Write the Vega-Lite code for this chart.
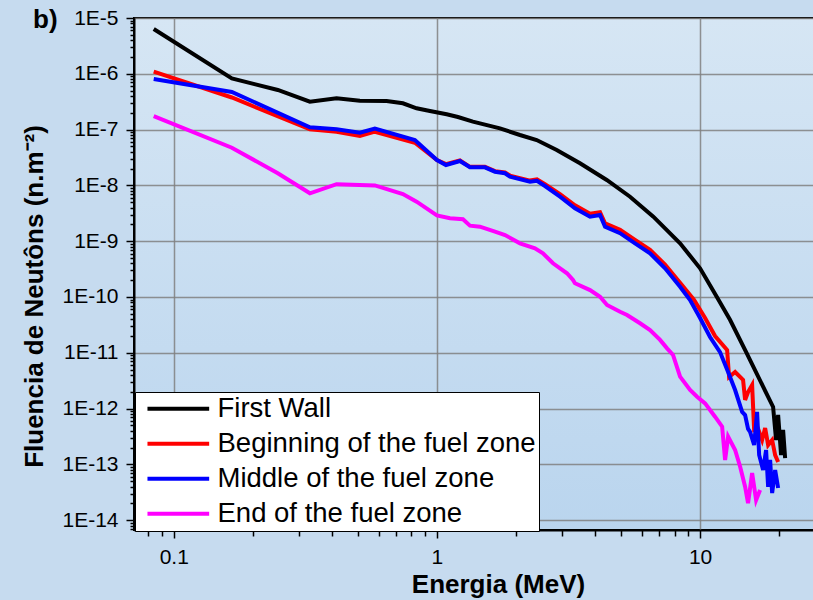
{
  "$schema": "https://vega.github.io/schema/vega-lite/v6.json",
  "width": 680,
  "height": 512,
  "autosize": {"type": "none"},
  "padding": {"left": 134, "top": 18, "right": 0, "bottom": 70},
  "background": "#c6dbef",
  "title": {"text": "b)", "anchor": "start", "dx": -101, "dy": 37, "fontSize": 26, "fontWeight": "bold", "font": "Liberation Sans", "color": "black", "baseline": "alphabetic", "offset": -10, "frame": "group"},
  "config": {
    "font": "Liberation Sans",
    "view": {"stroke": "black", "strokeWidth": 2, "fill": {"gradient": "linear", "x1": 0, "y1": 0, "x2": 0, "y2": 1, "stops": [{"offset": 0, "color": "#d6e6f4"}, {"offset": 1, "color": "#bad5ee"}]}}
  },
  "data": {"values": [
    {"s": "First Wall", "E": 0.0839, "F": 6.35e-6},
    {"s": "First Wall", "E": 0.1662, "F": 8.24e-7},
    {"s": "First Wall", "E": 0.2485, "F": 5.13e-7},
    {"s": "First Wall", "E": 0.329, "F": 3.16e-7},
    {"s": "First Wall", "E": 0.4155, "F": 3.64e-7},
    {"s": "First Wall", "E": 0.5096, "F": 3.30e-7},
    {"s": "First Wall", "E": 0.6437, "F": 3.26e-7},
    {"s": "First Wall", "E": 0.7425, "F": 2.96e-7},
    {"s": "First Wall", "E": 0.837, "F": 2.41e-7},
    {"s": "First Wall", "E": 0.9406, "F": 2.15e-7},
    {"s": "First Wall", "E": 1.089, "F": 1.88e-7},
    {"s": "First Wall", "E": 1.202, "F": 1.68e-7},
    {"s": "First Wall", "E": 1.37, "F": 1.39e-7},
    {"s": "First Wall", "E": 1.736, "F": 1.05e-7},
    {"s": "First Wall", "E": 2.068, "F": 8.0e-8},
    {"s": "First Wall", "E": 2.394, "F": 6.51e-8},
    {"s": "First Wall", "E": 2.852, "F": 4.31e-8},
    {"s": "First Wall", "E": 3.497, "F": 2.49e-8},
    {"s": "First Wall", "E": 4.419, "F": 1.25e-8},
    {"s": "First Wall", "E": 5.418, "F": 6.27e-9},
    {"s": "First Wall", "E": 6.644, "F": 2.75e-9},
    {"s": "First Wall", "E": 8.395, "F": 9.17e-10},
    {"s": "First Wall", "E": 10.0, "F": 3.27e-10},
    {"s": "First Wall", "E": 11.57, "F": 1.01e-10},
    {"s": "First Wall", "E": 13.01, "F": 3.87e-11},
    {"s": "First Wall", "E": 15.05, "F": 9.79e-12},
    {"s": "First Wall", "E": 17.36, "F": 2.47e-12},
    {"s": "First Wall", "E": 18.95, "F": 1.07e-12},
    {"s": "First Wall", "E": 19.45, "F": 2.74e-13},
    {"s": "First Wall", "E": 19.8, "F": 7.68e-13},
    {"s": "First Wall", "E": 20.32, "F": 1.47e-13},
    {"s": "First Wall", "E": 20.68, "F": 4.13e-13},
    {"s": "First Wall", "E": 21.05, "F": 1.3e-13},

    {"s": "Beginning of the fuel zone", "E": 0.0839, "F": 1.09e-6},
    {"s": "Beginning of the fuel zone", "E": 0.1662, "F": 3.76e-7},
    {"s": "Beginning of the fuel zone", "E": 0.329, "F": 1.01e-7},
    {"s": "Beginning of the fuel zone", "E": 0.4155, "F": 9.17e-8},
    {"s": "Beginning of the fuel zone", "E": 0.5096, "F": 7.68e-8},
    {"s": "Beginning of the fuel zone", "E": 0.5811, "F": 9.17e-8},
    {"s": "Beginning of the fuel zone", "E": 0.8245, "F": 5.82e-8},
    {"s": "Beginning of the fuel zone", "E": 1.0, "F": 2.85e-8},
    {"s": "Beginning of the fuel zone", "E": 1.082, "F": 2.4e-8},
    {"s": "Beginning of the fuel zone", "E": 1.223, "F": 2.8e-8},
    {"s": "Beginning of the fuel zone", "E": 1.335, "F": 2.15e-8},
    {"s": "Beginning of the fuel zone", "E": 1.522, "F": 2.15e-8},
    {"s": "Beginning of the fuel zone", "E": 1.662, "F": 1.8e-8},
    {"s": "Beginning of the fuel zone", "E": 1.814, "F": 1.7e-8},
    {"s": "Beginning of the fuel zone", "E": 1.895, "F": 1.5e-8},
    {"s": "Beginning of the fuel zone", "E": 2.258, "F": 1.22e-8},
    {"s": "Beginning of the fuel zone", "E": 2.4, "F": 1.28e-8},
    {"s": "Beginning of the fuel zone", "E": 2.575, "F": 1.05e-8},
    {"s": "Beginning of the fuel zone", "E": 2.936, "F": 7.0e-9},
    {"s": "Beginning of the fuel zone", "E": 3.347, "F": 4.4e-9},
    {"s": "Beginning of the fuel zone", "E": 3.818, "F": 3.1e-9},
    {"s": "Beginning of the fuel zone", "E": 4.167, "F": 3.3e-9},
    {"s": "Beginning of the fuel zone", "E": 4.354, "F": 2.1e-9},
    {"s": "Beginning of the fuel zone", "E": 4.965, "F": 1.6e-9},
    {"s": "Beginning of the fuel zone", "E": 5.66, "F": 1.05e-9},
    {"s": "Beginning of the fuel zone", "E": 6.455, "F": 7.0e-10},
    {"s": "Beginning of the fuel zone", "E": 7.362, "F": 3.8e-10},
    {"s": "Beginning of the fuel zone", "E": 8.395, "F": 1.8e-10},
    {"s": "Beginning of the fuel zone", "E": 9.49, "F": 8.83e-11},
    {"s": "Beginning of the fuel zone", "E": 10.45, "F": 4.2e-11},
    {"s": "Beginning of the fuel zone", "E": 11.4, "F": 2.0e-11},
    {"s": "Beginning of the fuel zone", "E": 12.67, "F": 1.12e-11},
    {"s": "Beginning of the fuel zone", "E": 12.89, "F": 3.68e-12},
    {"s": "Beginning of the fuel zone", "E": 13.59, "F": 4.53e-12},
    {"s": "Beginning of the fuel zone", "E": 14.57, "F": 3.26e-12},
    {"s": "Beginning of the fuel zone", "E": 14.83, "F": 1.43e-12},
    {"s": "Beginning of the fuel zone", "E": 15.22, "F": 1.98e-12},
    {"s": "Beginning of the fuel zone", "E": 15.77, "F": 2.65e-12},
    {"s": "Beginning of the fuel zone", "E": 16.05, "F": 4.13e-13},
    {"s": "Beginning of the fuel zone", "E": 16.62, "F": 4.31e-13},
    {"s": "Beginning of the fuel zone", "E": 17.21, "F": 2.74e-13},
    {"s": "Beginning of the fuel zone", "E": 17.67, "F": 4.49e-13},
    {"s": "Beginning of the fuel zone", "E": 18.14, "F": 2.23e-13},
    {"s": "Beginning of the fuel zone", "E": 18.79, "F": 2.74e-13},
    {"s": "Beginning of the fuel zone", "E": 19.29, "F": 1.47e-13},
    {"s": "Beginning of the fuel zone", "E": 19.8, "F": 1.1e-13},

    {"s": "Middle of the fuel zone", "E": 0.0839, "F": 8.07e-7},
    {"s": "Middle of the fuel zone", "E": 0.1662, "F": 4.72e-7},
    {"s": "Middle of the fuel zone", "E": 0.329, "F": 1.1e-7},
    {"s": "Middle of the fuel zone", "E": 0.4155, "F": 1.01e-7},
    {"s": "Middle of the fuel zone", "E": 0.5096, "F": 8.8e-8},
    {"s": "Middle of the fuel zone", "E": 0.5811, "F": 1.04e-7},
    {"s": "Middle of the fuel zone", "E": 0.8245, "F": 6.51e-8},
    {"s": "Middle of the fuel zone", "E": 1.0, "F": 2.85e-8},
    {"s": "Middle of the fuel zone", "E": 1.082, "F": 2.32e-8},
    {"s": "Middle of the fuel zone", "E": 1.223, "F": 2.74e-8},
    {"s": "Middle of the fuel zone", "E": 1.335, "F": 2.11e-8},
    {"s": "Middle of the fuel zone", "E": 1.522, "F": 2.11e-8},
    {"s": "Middle of the fuel zone", "E": 1.662, "F": 1.76e-8},
    {"s": "Middle of the fuel zone", "E": 1.814, "F": 1.65e-8},
    {"s": "Middle of the fuel zone", "E": 1.895, "F": 1.43e-8},
    {"s": "Middle of the fuel zone", "E": 2.258, "F": 1.16e-8},
    {"s": "Middle of the fuel zone", "E": 2.4, "F": 1.21e-8},
    {"s": "Middle of the fuel zone", "E": 2.575, "F": 9.75e-9},
    {"s": "Middle of the fuel zone", "E": 2.936, "F": 6.27e-9},
    {"s": "Middle of the fuel zone", "E": 3.347, "F": 3.89e-9},
    {"s": "Middle of the fuel zone", "E": 3.818, "F": 2.75e-9},
    {"s": "Middle of the fuel zone", "E": 4.167, "F": 2.95e-9},
    {"s": "Middle of the fuel zone", "E": 4.354, "F": 1.82e-9},
    {"s": "Middle of the fuel zone", "E": 4.965, "F": 1.39e-9},
    {"s": "Middle of the fuel zone", "E": 5.66, "F": 9.17e-10},
    {"s": "Middle of the fuel zone", "E": 6.455, "F": 6.07e-10},
    {"s": "Middle of the fuel zone", "E": 7.362, "F": 3.27e-10},
    {"s": "Middle of the fuel zone", "E": 8.395, "F": 1.53e-10},
    {"s": "Middle of the fuel zone", "E": 9.162, "F": 8.83e-11},
    {"s": "Middle of the fuel zone", "E": 10.0, "F": 4.2e-11},
    {"s": "Middle of the fuel zone", "E": 10.91, "F": 1.92e-11},
    {"s": "Middle of the fuel zone", "E": 11.91, "F": 1.03e-11},
    {"s": "Middle of the fuel zone", "E": 12.78, "F": 4.53e-12},
    {"s": "Middle of the fuel zone", "E": 13.59, "F": 2.15e-12},
    {"s": "Middle of the fuel zone", "E": 14.45, "F": 8.7e-13},
    {"s": "Middle of the fuel zone", "E": 14.83, "F": 7.68e-13},
    {"s": "Middle of the fuel zone", "E": 15.22, "F": 4.31e-13},
    {"s": "Middle of the fuel zone", "E": 15.49, "F": 3.81e-13},
    {"s": "Middle of the fuel zone", "E": 16.05, "F": 2.23e-13},
    {"s": "Middle of the fuel zone", "E": 16.47, "F": 8.7e-13},
    {"s": "Middle of the fuel zone", "E": 16.77, "F": 1.47e-13},
    {"s": "Middle of the fuel zone", "E": 17.36, "F": 7.93e-14},
    {"s": "Middle of the fuel zone", "E": 17.82, "F": 1.81e-13},
    {"s": "Middle of the fuel zone", "E": 18.14, "F": 3.94e-14},
    {"s": "Middle of the fuel zone", "E": 18.46, "F": 1.2e-13},
    {"s": "Middle of the fuel zone", "E": 18.79, "F": 3.07e-14},
    {"s": "Middle of the fuel zone", "E": 19.29, "F": 7.93e-14},
    {"s": "Middle of the fuel zone", "E": 19.8, "F": 3.78e-14},

    {"s": "End of the fuel zone", "E": 0.0839, "F": 1.75e-7},
    {"s": "End of the fuel zone", "E": 0.1662, "F": 4.74e-8},
    {"s": "End of the fuel zone", "E": 0.2485, "F": 1.65e-8},
    {"s": "End of the fuel zone", "E": 0.329, "F": 7.22e-9},
    {"s": "End of the fuel zone", "E": 0.4155, "F": 1.05e-8},
    {"s": "End of the fuel zone", "E": 0.5811, "F": 1.0e-8},
    {"s": "End of the fuel zone", "E": 0.7425, "F": 7.0e-9},
    {"s": "End of the fuel zone", "E": 0.837, "F": 5.1e-9},
    {"s": "End of the fuel zone", "E": 1.0, "F": 2.9e-9},
    {"s": "End of the fuel zone", "E": 1.121, "F": 2.57e-9},
    {"s": "End of the fuel zone", "E": 1.256, "F": 2.47e-9},
    {"s": "End of the fuel zone", "E": 1.335, "F": 1.9e-9},
    {"s": "End of the fuel zone", "E": 1.457, "F": 1.82e-9},
    {"s": "End of the fuel zone", "E": 1.662, "F": 1.48e-9},
    {"s": "End of the fuel zone", "E": 1.814, "F": 1.29e-9},
    {"s": "End of the fuel zone", "E": 2.068, "F": 9.17e-10},
    {"s": "End of the fuel zone", "E": 2.358, "F": 7.46e-10},
    {"s": "End of the fuel zone", "E": 2.529, "F": 6.07e-10},
    {"s": "End of the fuel zone", "E": 2.761, "F": 4.02e-10},
    {"s": "End of the fuel zone", "E": 3.121, "F": 2.66e-10},
    {"s": "End of the fuel zone", "E": 3.289, "F": 2.02e-10},
    {"s": "End of the fuel zone", "E": 3.347, "F": 1.76e-10},
    {"s": "End of the fuel zone", "E": 3.818, "F": 1.33e-10},
    {"s": "End of the fuel zone", "E": 4.167, "F": 1.01e-10},
    {"s": "End of the fuel zone", "E": 4.43, "F": 7.19e-11},
    {"s": "End of the fuel zone", "E": 4.965, "F": 5.45e-11},
    {"s": "End of the fuel zone", "E": 5.278, "F": 4.76e-11},
    {"s": "End of the fuel zone", "E": 5.914, "F": 3.38e-11},
    {"s": "End of the fuel zone", "E": 6.455, "F": 2.56e-11},
    {"s": "End of the fuel zone", "E": 7.047, "F": 1.7e-11},
    {"s": "End of the fuel zone", "E": 7.492, "F": 1.2e-11},
    {"s": "End of the fuel zone", "E": 7.894, "F": 9.13e-12},
    {"s": "End of the fuel zone", "E": 8.395, "F": 3.73e-12},
    {"s": "End of the fuel zone", "E": 9.162, "F": 2.15e-12},
    {"s": "End of the fuel zone", "E": 9.741, "F": 1.63e-12},
    {"s": "End of the fuel zone", "E": 10.45, "F": 1.24e-12},
    {"s": "End of the fuel zone", "E": 11.4, "F": 7.16e-13},
    {"s": "End of the fuel zone", "E": 12.13, "F": 4.74e-13},
    {"s": "End of the fuel zone", "E": 12.45, "F": 1.2e-13},
    {"s": "End of the fuel zone", "E": 12.78, "F": 3.14e-13},
    {"s": "End of the fuel zone", "E": 13.59, "F": 1.81e-13},
    {"s": "End of the fuel zone", "E": 14.2, "F": 9.09e-14},
    {"s": "End of the fuel zone", "E": 14.83, "F": 3.98e-14},
    {"s": "End of the fuel zone", "E": 15.22, "F": 2.01e-14},
    {"s": "End of the fuel zone", "E": 15.77, "F": 7.01e-14},
    {"s": "End of the fuel zone", "E": 16.33, "F": 2.3e-14},
    {"s": "End of the fuel zone", "E": 16.91, "F": 3.48e-14}
  ]},
  "mark": {"type": "line", "strokeWidth": 4, "clip": true},
  "encoding": {
    "x": {
      "field": "E", "type": "quantitative",
      "scale": {"type": "log", "domain": [0.0706, 27.1], "nice": false},
      "axis": {
        "values": [0.08, 0.09, 0.1, 0.2, 0.3, 0.4, 0.5, 0.6, 0.7, 0.8, 0.9, 1, 2, 3, 4, 5, 6, 7, 8, 9, 10, 20],
        "labelExpr": "datum.value == 0.1 ? '0.1' : datum.value == 1 ? '1' : datum.value == 10 ? '10' : ''",
        "tickSize": {"condition": {"test": "datum.value == 0.1 || datum.value == 1 || datum.value == 10", "value": 8}, "value": 6},
        "grid": true,
        "gridOpacity": {"condition": {"test": "datum.value == 0.1 || datum.value == 1 || datum.value == 10", "value": 0.85}, "value": 0},
        "gridColor": "#808080", "gridWidth": 1.5,
        "domainColor": "black", "domainWidth": 2,
        "tickColor": "black", "tickWidth": 1.5,
        "labelFontSize": 21, "labelColor": "black", "labelPadding": 8, "labelOverlap": false, "labelFlush": false,
        "title": "Energia (MeV)", "titleFontSize": 26, "titleFontWeight": "bold", "titleColor": "black",
        "titleX": 364, "titleY": 62, "titleAlign": "center", "titleBaseline": "alphabetic"
      }
    },
    "y": {
      "field": "F", "type": "quantitative",
      "scale": {"type": "log", "domain": [6.67e-15, 1e-5], "nice": false},
      "axis": {
        "values": [7e-15, 8e-15, 9e-15,
          1e-14, 2e-14, 3e-14, 4e-14, 5e-14, 6e-14, 7e-14, 8e-14, 9e-14,
          1e-13, 2e-13, 3e-13, 4e-13, 5e-13, 6e-13, 7e-13, 8e-13, 9e-13,
          1e-12, 2e-12, 3e-12, 4e-12, 5e-12, 6e-12, 7e-12, 8e-12, 9e-12,
          1e-11, 2e-11, 3e-11, 4e-11, 5e-11, 6e-11, 7e-11, 8e-11, 9e-11,
          1e-10, 2e-10, 3e-10, 4e-10, 5e-10, 6e-10, 7e-10, 8e-10, 9e-10,
          1e-9, 2e-9, 3e-9, 4e-9, 5e-9, 6e-9, 7e-9, 8e-9, 9e-9,
          1e-8, 2e-8, 3e-8, 4e-8, 5e-8, 6e-8, 7e-8, 8e-8, 9e-8,
          1e-7, 2e-7, 3e-7, 4e-7, 5e-7, 6e-7, 7e-7, 8e-7, 9e-7,
          1e-6, 2e-6, 3e-6, 4e-6, 5e-6, 6e-6, 7e-6, 8e-6, 9e-6, 1e-5],
        "labelExpr": "abs(log(datum.value)/LN10 - round(log(datum.value)/LN10)) < 0.01 ? '1E' + round(log(datum.value)/LN10) : ''",
        "tickSize": {"condition": {"test": "abs(log(datum.value)/LN10 - round(log(datum.value)/LN10)) < 0.01", "value": 8}, "value": 4},
        "grid": true,
        "gridOpacity": {"condition": {"test": "abs(log(datum.value)/LN10 - round(log(datum.value)/LN10)) < 0.01", "value": 0.85}, "value": 0},
        "gridColor": "#808080", "gridWidth": 1.5,
        "domainColor": "black", "domainWidth": 2,
        "tickColor": "black", "tickWidth": 1.5,
        "labelFontSize": 21, "labelColor": "black", "labelPadding": 8, "labelOverlap": false, "labelFlush": false,
        "title": "Fluencia de Neutôns (n.m⁻²)", "titleFontSize": 26, "titleFontWeight": "bold", "titleColor": "black",
        "titleX": -92, "titleY": 278, "titleAngle": 270, "titleAlign": "center", "titleBaseline": "alphabetic"
      }
    },
    "color": {
      "field": "s", "type": "nominal",
      "scale": {"domain": ["First Wall", "Beginning of the fuel zone", "Middle of the fuel zone", "End of the fuel zone"], "range": ["#000000", "#ff0000", "#0000ff", "#ff00ff"]},
      "legend": {
        "title": null, "orient": "none", "legendX": 1, "legendY": 374,
        "fillColor": "white", "strokeColor": "black", "padding": 3,
        "symbolType": "M-1,0H5", "symbolSize": 423, "symbolStrokeWidth": 4, "symbolOffset": 6,
        "labelOffset": 46, "labelFontSize": 27.5, "labelColor": "black", "labelLimit": 0,
        "rowPadding": 6
      }
    }
  }
}
